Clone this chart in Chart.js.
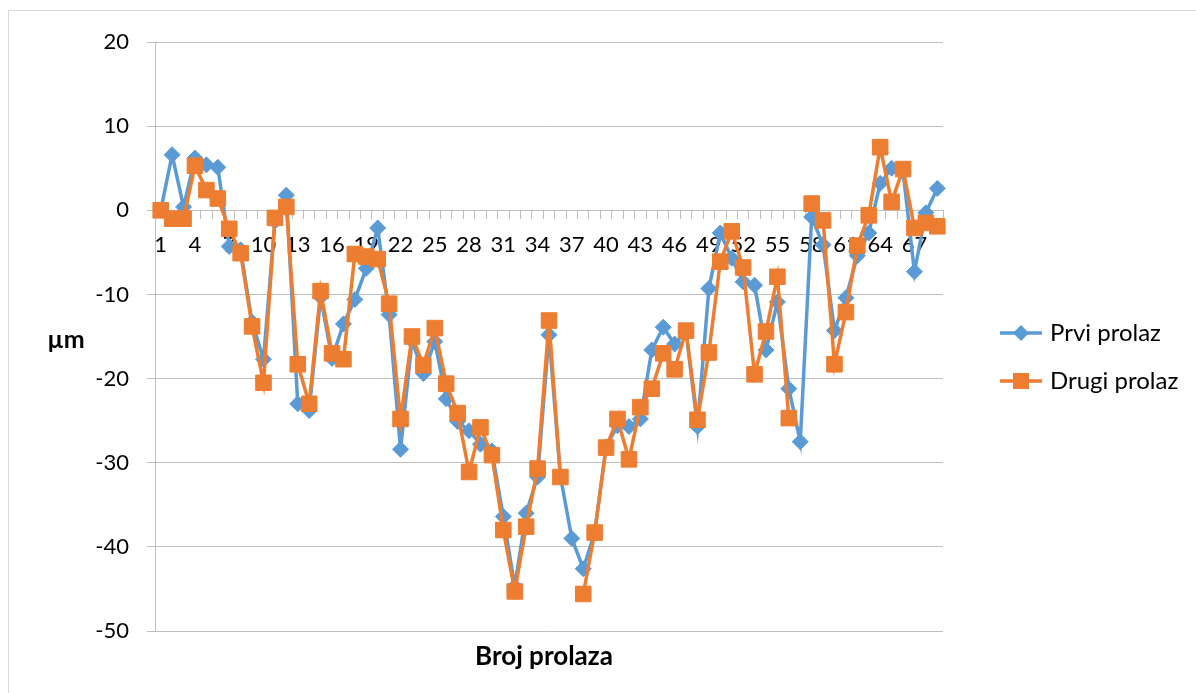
<!DOCTYPE html>
<html>
<head>
<meta charset="utf-8">
<script src="https://cdn.jsdelivr.net/npm/chart.js@4.4.1/dist/chart.umd.min.js"></script>
<style>
	html, body { margin: 0; padding: 0; background: #fff; overflow: hidden; }
	.frame { position: absolute; left: 8px; top: 10px; width: 1200px; height: 700px; border: 1px solid #d9d9d9; }
	#myChart { position: absolute; left: 0; top: 0; }
</style>
</head>
<body>
<div class="frame"></div>
<canvas id="myChart" width="1196" height="693"></canvas>
<script>
const passes = [
	1, 2, 3, 4, 5, 6, 7, 8, 9, 10, 11, 12, 13, 14, 15, 16, 17, 18, 19, 20, 21, 22, 23,
	24, 25, 26, 27, 28, 29, 30, 31, 32, 33, 34, 35, 36, 37, 38, 39, 40, 41, 42, 43, 44, 45, 46,
	47, 48, 49, 50, 51, 52, 53, 54, 55, 56, 57, 58, 59, 60, 61, 62, 63, 64, 65, 66, 67, 68, 69,
];

const prviProlaz = [
	0, 6.6, 0.4, 6.2, 5.4, 5.1, -4.3, -4.7, -13.3, -17.7, -1.3, 1.8, -23.0, -23.8, -10.3,
	-17.6, -13.5, -10.6, -6.9, -2.1, -12.4, -28.4, -15.5, -19.4, -15.6, -22.4, -25.1, -26.2,
	-27.8, -28.6, -36.4, -44.7, -36.0, -31.7, -14.8, -31.6, -39.0, -42.6, -38.3, -28.1, -25.6,
	-25.7, -24.8, -16.6, -13.9, -15.9, -14.4, -25.7, -9.3, -2.7, -5.7, -8.5, -8.9, -16.6,
	-10.9, -21.2, -27.5, -0.8, -4.1, -14.3, -10.4, -5.4, -2.7, 3.2, 5.0, 4.6, -7.3, -0.3, 2.6,
];

// null = no reading for that pass, line is broken there
const drugiProlaz = [
	0, -1.0, -1.0, 5.3, 2.4, 1.4, -2.2, -5.1, -13.8, -20.5, -0.9, 0.4, -18.3, -23.0, -9.6,
	-17.0, -17.7, -5.2, -5.5, -5.8, -11.1, -24.8, -15.0, -18.4, -14.0, -20.6, -24.1, -31.1,
	-25.8, -29.1, -38.0, -45.3, -37.6, -30.7, -13.1, -31.7, null, -45.6, -38.3, -28.2, -24.8,
	-29.6, -23.4, -21.2, -17.0, -18.9, -14.3, -24.9, -16.9, -6.1, -2.5, -6.8, -19.5, -14.4,
	-7.9, -24.7, null, 0.8, -1.2, -18.3, -12.1, -4.2, -0.6, 7.5, 1.0, 4.9, -2.1, -1.5, -1.9,
];

const yTicks = [20, 10, 0, -10, -20, -30, -40, -50];
const yTitle = "µm";
const xTitle = "Broj prolaza";

const blue = "#5b9bd5";
const orange = "#ed7d31";
const gridColor = "#bfbfbf";
const fontName = "Lato";

// axis titles and legend, placed like the spreadsheet chart
const extraText = {
	id: "extraText",
	afterDraw(chart) {
		const c = chart.ctx;
		c.save();
		c.fillStyle = "#000";
		c.textBaseline = "middle";
		c.textAlign = "center";
		c.font = "bold 25px " + fontName;
		c.fillText(yTitle, 66, 340);
		c.font = "bold 26px " + fontName;
		c.fillText(xTitle, 544, 657);

		c.font = "24px " + fontName;
		c.textAlign = "left";
		chart.data.datasets.forEach((ds, i) => {
			const y = 333 + i * 48;
			c.strokeStyle = ds.borderColor;
			c.lineWidth = ds.borderWidth;
			c.beginPath();
			c.moveTo(1000, y);
			c.lineTo(1042, y);
			c.stroke();
			c.fillStyle = ds.borderColor;
			c.beginPath();
			if (ds.pointStyle === "rect") {
				c.rect(1021 - 8, y - 8, 16, 16);
			} else {
				c.moveTo(1021, y - 8);
				c.lineTo(1029, y);
				c.lineTo(1021, y + 8);
				c.lineTo(1013, y);
				c.closePath();
			}
			c.fill();
			c.fillStyle = "#000";
			c.fillText(ds.label, 1050, y);
		});
		c.restore();
	},
};

const ctx = document.getElementById("myChart");

new Chart(ctx, {
	type: "line",
	data: {
		labels: passes,
		datasets: [
			{
				label: "Prvi prolaz",
				data: prviProlaz,
				borderColor: blue,
				backgroundColor: blue,
				pointBorderColor: blue,
				borderWidth: 3.5,
				pointStyle: "rectRot",
				pointRadius: 8,
				pointHoverRadius: 8,
				pointBorderWidth: 1,
				order: 1,
			},
			{
				label: "Drugi prolaz",
				data: drugiProlaz,
				borderColor: orange,
				backgroundColor: orange,
				pointBorderColor: orange,
				borderWidth: 3.5,
				pointStyle: "rect",
				pointRadius: 11,
				pointHoverRadius: 11,
				pointBorderWidth: 1,
				order: 0,
			},
		],
	},
	options: {
		responsive: false,
		animation: false,
		devicePixelRatio: 1,
		spanGaps: false,
		layout: {
			padding: { left: 95, top: 42, right: 253, bottom: 62 },
		},
		plugins: {
			legend: { display: false },
			tooltip: { enabled: false },
		},
		scales: {
			x: {
				position: { y: 0 },
				offset: true,
				grid: {
					offset: true,
					drawOnChartArea: false,
					drawTicks: true,
					tickLength: 8,
					color: gridColor,
				},
				border: { color: gridColor },
				ticks: {
					autoSkip: false,
					maxRotation: 0,
					padding: 13,
					color: "#000",
					font: { family: fontName, size: 22 },
					callback: (v, i) => (i % 3 === 0 ? passes[i] : ""),
				},
			},
			y: {
				min: -50,
				max: 20,
				afterFit: (scale) => {
					scale.width = 60;
				},
				afterBuildTicks: (scale) => {
					scale.ticks = yTicks.map((v) => ({ value: v }));
				},
				grid: {
					color: gridColor,
					tickLength: 8,
				},
				border: { color: gridColor },
				ticks: {
					padding: 18,
					color: "#000",
					font: { family: fontName, size: 22 },
				},
			},
		},
	},
	plugins: [extraText],
});
</script>
</body>
</html>
